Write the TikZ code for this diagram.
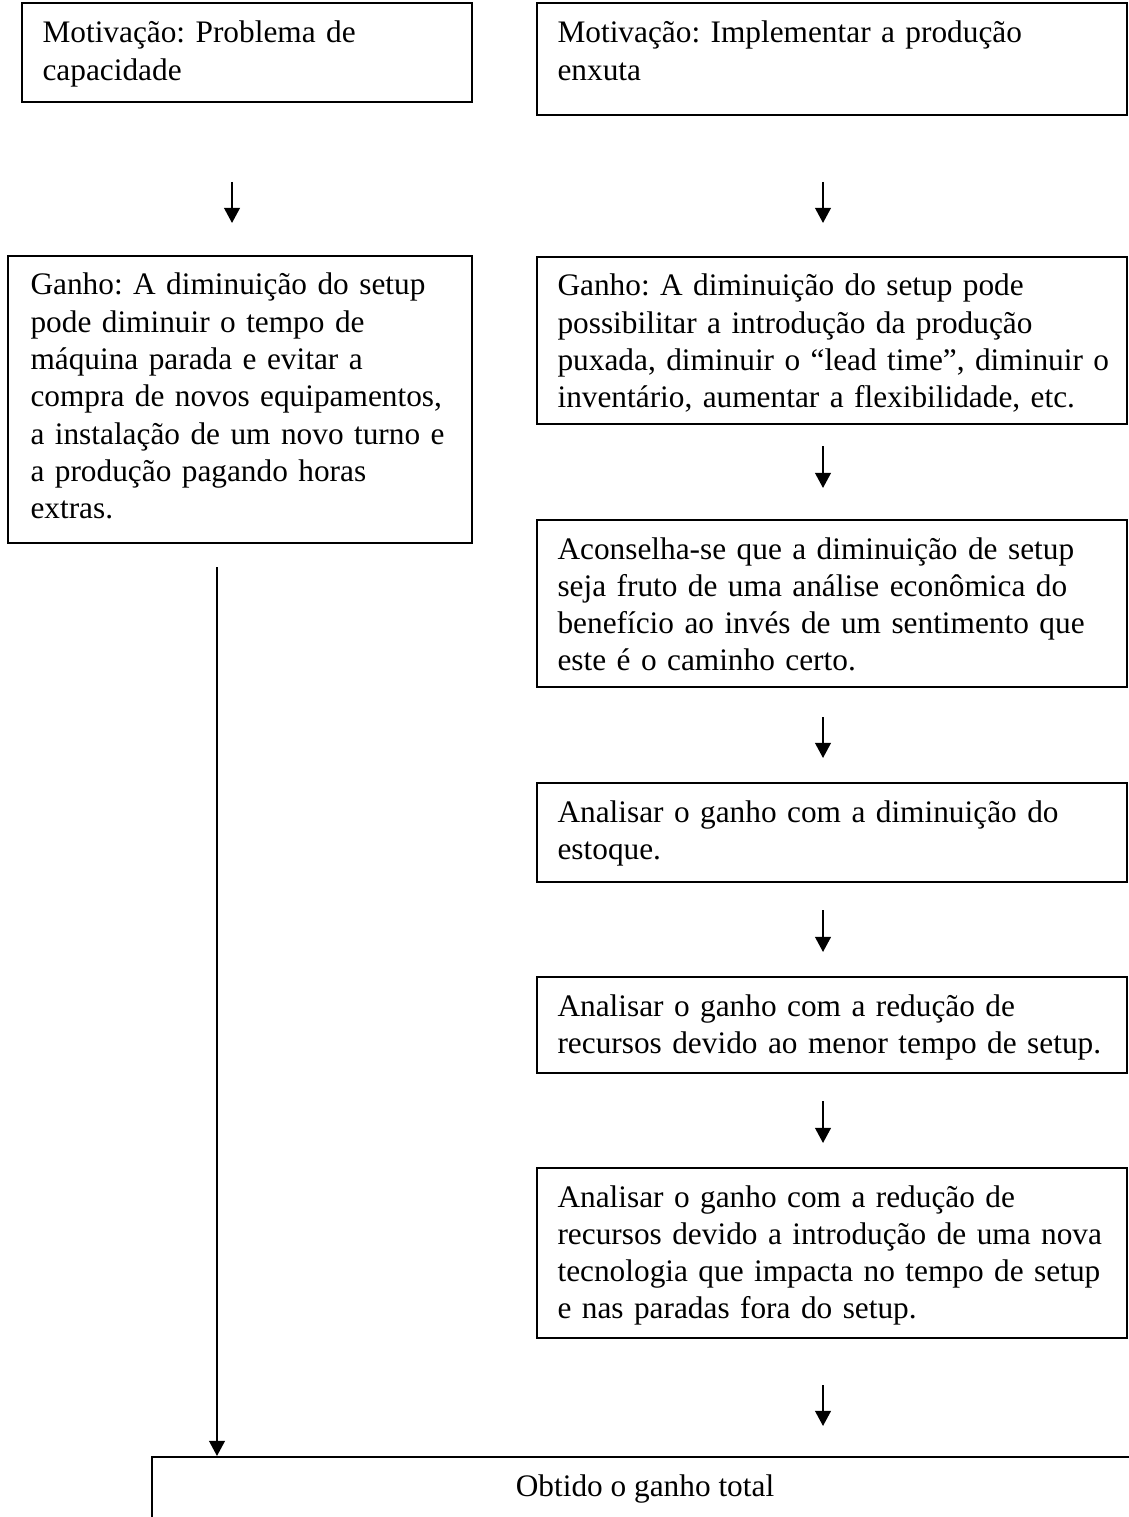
\documentclass[tikz,border=0pt]{standalone}
\usepackage{fontspec}
\setmainfont{Liberation Serif}
\usetikzlibrary{arrows.meta,fit}
\begin{document}
\frenchspacing
\begin{tikzpicture}[x=0.37037pt,y=-0.37037pt,
  boxst/.style={draw, line width=0.75pt, inner sep=0pt},
  txt/.style={anchor=base west, inner sep=0pt, align=left, text width=215pt,
    font=\fontsize{11.6pt}{13.8pt}\selectfont},
  arr/.style={line width=0.75pt, -{Triangle[width=5.8pt,length=5.6pt]}}]
\useasboundingbox (0,0) rectangle (1129,1517);
\clip (0,0) rectangle (1129,1517);
% left column
\node[boxst, fit={(22,3) (472,102)}] (b1) {};
\node[txt] (t1) at (42,43) {Motivação: Problema de\\capacidade};
\node[boxst, fit={(8,256) (472,543)}] (g1) {};
\node[txt] (tg1) at (30,295) {Ganho: A diminuição do setup\\pode diminuir o tempo de\\máquina parada e evitar a\\compra de novos equipamentos,\\a instalação de um novo turno e\\a produção pagando horas\\extras.};
% right column
\node[boxst, fit={(537,3) (1127,115)}] (b2) {};
\node[txt] (t2) at (557,43) {Motivação: Implementar a produção\\enxuta};
\node[boxst, fit={(537,257) (1127,424)}] (g2) {};
\node[txt] (tg2) at (557,296) {Ganho: A diminuição do setup pode\\possibilitar a introdução da produção\\puxada, diminuir o “lead time”, diminuir o\\inventário, aumentar a flexibilidade, etc.};
\node[boxst, fit={(537,520) (1127,687)}] (ac) {};
\node[txt] (tac) at (557,559) {Aconselha-se que a diminuição de setup\\seja fruto de uma análise econômica do\\benefício ao invés de um sentimento que\\este é o caminho certo.};
\node[boxst, fit={(537,783) (1127,882)}] (es) {};
\node[txt] (tes) at (557,822) {Analisar o ganho com a diminuição do\\estoque.};
\node[boxst, fit={(537,977) (1127,1073)}] (re) {};
\node[txt] (tre) at (557,1016) {Analisar o ganho com a redução de\\recursos devido ao menor tempo de setup.};
\node[boxst, fit={(537,1168) (1127,1338)}] (te) {};
\node[txt] (tte) at (557,1207) {Analisar o ganho com a redução de\\recursos devido a introdução de uma nova\\tecnologia que impacta no tempo de setup\\e nas paradas fora do setup.};
% bottom box
\node[boxst, fit={(152,1457) (1140,1560)}] (ob) {};
\node[anchor=base, inner sep=0pt, font=\fontsize{11.6pt}{13.8pt}\selectfont] (tob) at (645,1496) {Obtido o ganho total};
% arrows
\coordinate (a1s) at (232,182); \coordinate (a1e) at (232,223);
\coordinate (a2s) at (823,182); \coordinate (a2e) at (823,223);
\coordinate (a3s) at (823,446); \coordinate (a3e) at (823,488);
\coordinate (a4s) at (823,717); \coordinate (a4e) at (823,758);
\coordinate (a5s) at (823,910); \coordinate (a5e) at (823,952);
\coordinate (a6s) at (823,1101); \coordinate (a6e) at (823,1143);
\coordinate (a7s) at (823,1385); \coordinate (a7e) at (823,1426);
\coordinate (ls) at (217,567);
\draw[arr] (a1s) -- (a1e);
\draw[arr] (a2s) -- (a2e);
\draw[arr] (a3s) -- (a3e);
\draw[arr] (a4s) -- (a4e);
\draw[arr] (a5s) -- (a5e);
\draw[arr] (a6s) -- (a6e);
\draw[arr] (a7s) -- (a7e);
\draw[arr] (ls) -- (ls |- ob.north);
\end{tikzpicture}
\end{document}
